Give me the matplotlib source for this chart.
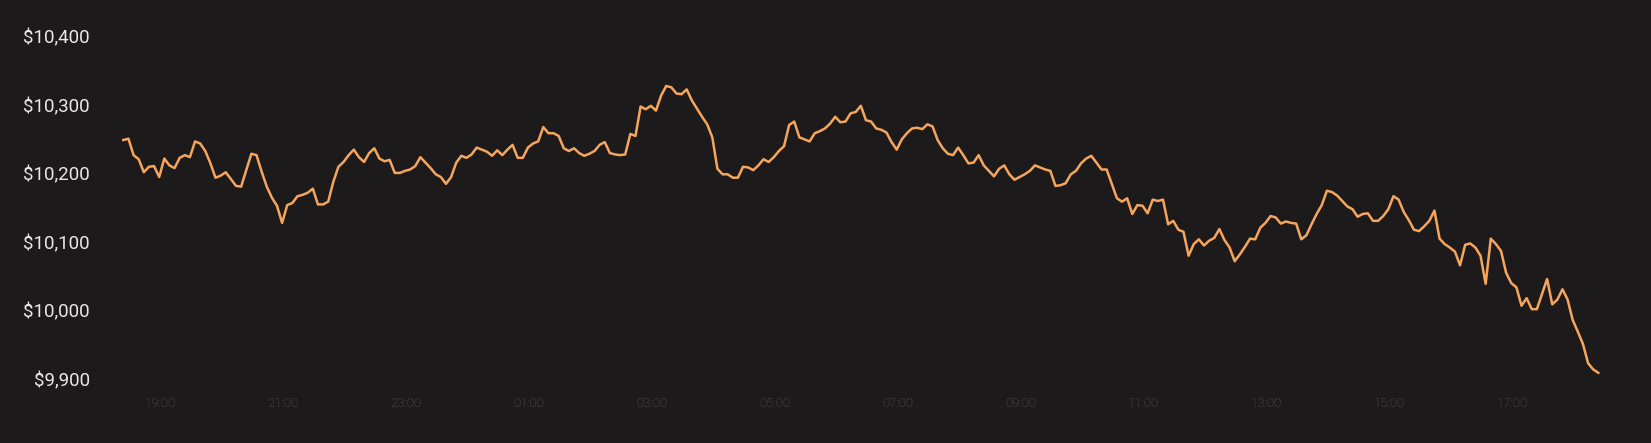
import matplotlib.pyplot as plt
import matplotlib.dates as mdates
import matplotlib.ticker as mticker
import pandas as pd

# price every 5 minutes, 24 hours
start_time = '2019-09-23 18:24'
prices = [
    10249, 10251, 10227, 10221, 10202, 10210, 10211, 10195, 10222, 10212,
    10208, 10223, 10227, 10224, 10247, 10244, 10233, 10215, 10194, 10197,
    10202, 10192, 10182, 10181, 10205, 10229, 10227, 10203, 10181, 10165,
    10153, 10128, 10154, 10157, 10167, 10169, 10172, 10178, 10155, 10155,
    10159, 10188, 10210, 10217, 10227, 10235, 10224, 10217, 10230, 10237,
    10222, 10218, 10220, 10201, 10201, 10204, 10206, 10211, 10224, 10216,
    10208, 10199, 10195, 10185, 10195, 10216, 10226, 10223, 10228, 10238,
    10235, 10232, 10226, 10234, 10227, 10235, 10242, 10223, 10223, 10238,
    10244, 10247, 10268, 10259, 10259, 10255, 10237, 10233, 10237, 10230,
    10226, 10229, 10233, 10242, 10246, 10230, 10228, 10227,
    10228, 10258, 10255, 10298, 10294, 10299, 10292, 10314, 10328, 10326,
    10317, 10316, 10323, 10307, 10295, 10283, 10272, 10253, 10207, 10199,
    10199, 10194, 10194, 10210, 10209, 10205, 10212, 10221, 10217, 10224,
    10233, 10240, 10271, 10276, 10253, 10250, 10247, 10259, 10262, 10266,
    10273, 10283, 10275, 10276, 10288, 10290, 10299, 10278, 10276, 10266,
    10264, 10260,
    10246, 10235, 10250, 10259, 10266, 10267, 10265, 10272, 10269, 10249,
    10237, 10229, 10227, 10238, 10227, 10215, 10216, 10227, 10212, 10204,
    10196, 10207, 10212, 10199, 10191, 10195, 10199, 10204, 10212, 10209,
    10206, 10204, 10182, 10183, 10186, 10199, 10204, 10215, 10222, 10226,
    10216, 10206, 10206, 10185, 10164, 10159, 10164, 10141, 10154, 10153,
    10142, 10162, 10160, 10162, 10126, 10131, 10118, 10115, 10080, 10097,
    10104, 10095, 10102, 10106, 10119, 10103, 10092, 10072, 10082, 10093,
    10105, 10104, 10121, 10128, 10138, 10136, 10127, 10130, 10128, 10127,
    10104, 10110, 10126, 10141, 10154, 10175, 10173, 10168, 10160, 10152,
    10148, 10137, 10141, 10142, 10131, 10131, 10138, 10148, 10167, 10162,
    10144, 10132, 10118, 10116, 10123, 10131, 10146, 10105, 10097, 10092,
    10086, 10066, 10096, 10098, 10092, 10080, 10039, 10105, 10097, 10087,
    10055, 10040, 10034, 10007, 10018, 10002, 10002, 10024, 10046, 10009,
    10016, 10031, 10016, 9986, 9969, 9951, 9923, 9914, 9909,
]
y_ticks = [9900, 10000, 10100, 10200, 10300, 10400]

bg = '#1c1a1b'
times = pd.date_range(start_time, periods=len(prices), freq='5min')

fig = plt.figure(figsize=(16.51, 4.43), dpi=100, facecolor=bg)
ax = fig.add_axes([0.0747, 0.1445, 0.8934, 0.7727], facecolor=bg)

ax.plot(times, prices, color='#f6a65c', lw=1.8, clip_on=False,
        solid_joinstyle='round')

ax.set_xlim(times[0], times[-1])
ax.set_ylim(9900, 10400)
ax.set_yticks(y_ticks)
ax.yaxis.set_major_formatter(mticker.FuncFormatter(lambda v, p: f'${v:,.0f}'))
ax.xaxis.set_major_locator(mdates.HourLocator(byhour=range(1, 24, 2)))
ax.xaxis.set_major_formatter(mdates.DateFormatter('%H:%M'))

for s in ax.spines.values():
    s.set_visible(False)
ax.tick_params(axis='y', length=0, pad=24, labelsize=13.5, labelcolor='#e8e8e8')
ax.tick_params(axis='x', length=0, pad=13, labelsize=9.5, labelcolor='#5c5c5c')
for lab in ax.get_yticklabels():
    lab.set_family('Roboto')
for lab in ax.get_xticklabels():
    lab.set_family('Roboto')
    lab.set_fontweight('light')

fig.savefig('out.png', dpi=100, facecolor=bg)
